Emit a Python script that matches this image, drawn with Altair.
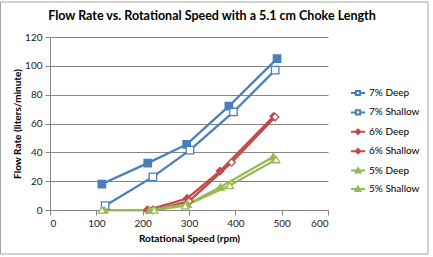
import altair as alt
import pandas as pd

# ---- data ----
series_names = ["7% Deep", "7% Shallow", "6% Deep", "6% Shallow", "5% Deep", "5% Shallow"]

rpm_7_deep = [112, 211, 295, 386, 490]
flow_7_deep = [18, 32.5, 45.5, 72, 105]

rpm_7_shallow = [119, 222, 302, 396, 486]
flow_7_shallow = [3, 23, 41.5, 68, 97]

rpm_6_deep = [210, 296, 367, 483]
flow_6_deep = [0, 8, 27, 65]

rpm_6_shallow = [222, 300, 392, 486]
flow_6_shallow = [0, 6, 33, 64.5]

rpm_5_deep = [117, 215, 297, 368, 482]
flow_5_deep = [0, 0, 4, 16, 37]

rpm_5_shallow = [112, 225, 292, 388, 488]
flow_5_shallow = [0, 0, 3, 17, 35]

x_ticks = [0, 100, 200, 300, 400, 500, 600]
y_ticks = [0, 20, 40, 60, 80, 100, 120]

rpms = [rpm_7_deep, rpm_7_shallow, rpm_6_deep, rpm_6_shallow, rpm_5_deep, rpm_5_shallow]
flows = [flow_7_deep, flow_7_shallow, flow_6_deep, flow_6_shallow, flow_5_deep, flow_5_shallow]

rows = []
for name, xs, ys in zip(series_names, rpms, flows):
    for xv, yv in zip(xs, ys):
        rows.append({"series": name, "rpm": xv, "flow": yv})
df = pd.DataFrame(rows)

# ---- styles ----
FONT = "Lato"
blue, red, green = "#4A7EBB", "#BE4B48", "#98B954"
colors = [blue, blue, red, red, green, green]
fills = [blue, "white", red, "white", green, "white"]
plot_shapes = ["square", "square", "diamond", "diamond", "triangle-up", "triangle-up"]
legend_shapes = [
    "M-1,0H-0.3M0.3,0H1M-0.3,-0.3H0.3V0.3H-0.3Z",
    "M-1,0H-0.3M0.3,0H1M-0.3,-0.3H0.3V0.3H-0.3Z",
    "M-1,0H1M0,-0.32L0.32,0L0,0.32L-0.32,0Z",
    "M-1,0H1M0,-0.32L0.32,0L0,0.32L-0.32,0Z",
    "M-1,0H1M0,-0.32L0.34,0.28H-0.34Z",
    "M-1,0H1M0,-0.32L0.34,0.28H-0.34Z",
]

x_enc = alt.X("rpm:Q", scale=alt.Scale(domain=[0, 600], nice=False),
              axis=alt.Axis(values=x_ticks, title="Rotational Speed (rpm)", grid=False))
y_enc = alt.Y("flow:Q", scale=alt.Scale(domain=[0, 120], nice=False),
              axis=alt.Axis(values=y_ticks, title="Flow Rate (liters/minute)", grid=True))

color_scale = alt.Scale(domain=series_names, range=colors)
fill_scale = alt.Scale(domain=series_names, range=fills)

base = alt.Chart(df)

lines = base.mark_line(strokeWidth=2.25).encode(
    x=x_enc, y=y_enc,
    color=alt.Color("series:N", scale=color_scale, legend=None),
    detail="series:N",
)

points = base.mark_point(filled=True, opacity=1, strokeWidth=1.3, size=55).encode(
    x=x_enc, y=y_enc,
    stroke=alt.Stroke("series:N", scale=color_scale, legend=None),
    fill=alt.Fill("series:N", scale=fill_scale, legend=None),
    shape=alt.Shape("series:N", scale=alt.Scale(domain=series_names, range=plot_shapes), legend=None),
)

leg = alt.Legend(orient="none", legendX=300, legendY=48)
legend_layer = base.mark_point(filled=True, opacity=0, strokeWidth=2).encode(
    x=x_enc, y=y_enc,
    stroke=alt.Stroke("series:N", scale=color_scale, title=None, legend=leg),
    fill=alt.Fill("series:N", scale=fill_scale, title=None, legend=leg),
    shape=alt.Shape("series:N", scale=alt.Scale(domain=series_names, range=legend_shapes),
                    title=None, legend=leg),
)

border = alt.Chart(pd.DataFrame({"a": [0]})).mark_rect(
    fill="transparent", stroke="#A6A6A6", strokeWidth=1
).encode(
    x=alt.value(-49.5), x2=alt.value(378), y=alt.value(-35), y2=alt.value(217)
)

chart = alt.layer(border, lines, points, legend_layer).resolve_scale(
    color="independent", fill="independent", shape="independent", stroke="independent"
).properties(
    width=278, height=173,
    autosize=alt.AutoSizeParams(type="none"),
    padding={"left": 50, "top": 37, "right": 105, "bottom": 47},
    title=alt.TitleParams(
        "Flow Rate vs. Rotational Speed with a 5.1 cm Choke Length",
        font=FONT, fontSize=12.5, fontWeight="bold", color="#000000",
        anchor="middle", dx=23, dy=29, offset=8,
    ),
).configure_view(stroke=None).configure_axis(
    labelFont=FONT, labelFontSize=10, labelColor="#222222",
    titleFont=FONT, titleFontSize=10, titleFontWeight="bold", titleColor="#000000",
    domainColor="#868686", tickColor="#868686", gridColor="#868686",
    tickSize=5, labelPadding=3,
).configure_axisY(titlePadding=2).configure_axisX(titlePadding=5).configure_legend(
    labelFont=FONT, labelFontSize=10, labelColor="#000000",
    symbolSize=196, symbolStrokeWidth=2, rowPadding=4.4, labelOffset=3,
)

chart.save("out.html", embed_options={"renderer": "svg", "actions": False})
